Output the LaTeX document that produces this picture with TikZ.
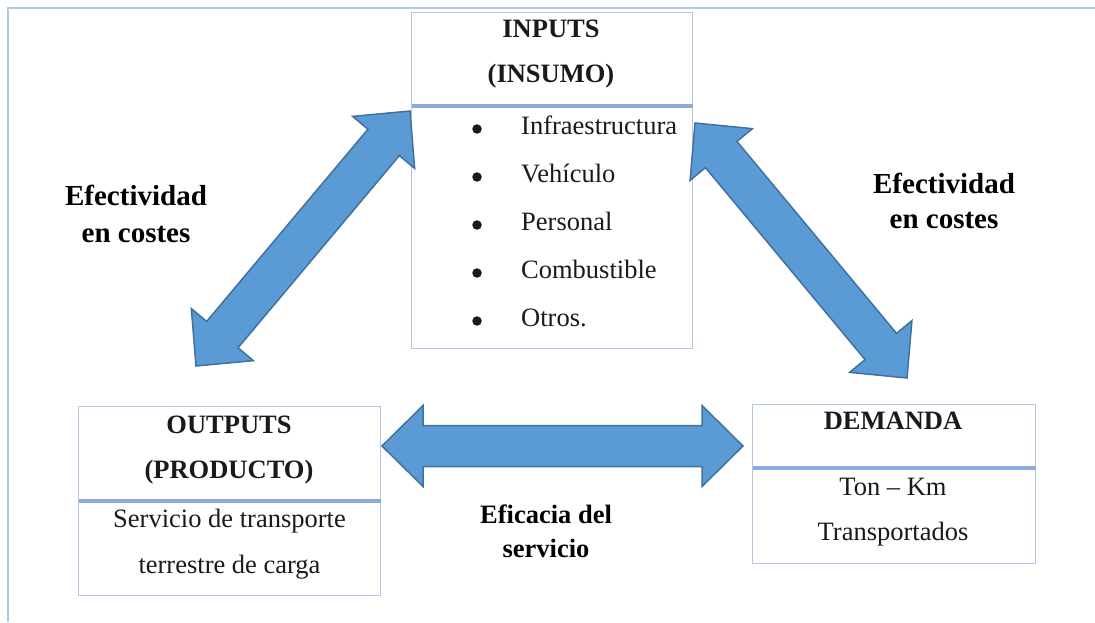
\documentclass[tikz,border=0pt]{standalone}
\usepackage{fontspec}
\setmainfont{Liberation Serif}
\usetikzlibrary{calc}
\definecolor{frameblue}{HTML}{B4C7E7}
\definecolor{divblue}{HTML}{8EA9DB}
\definecolor{arrowfill}{HTML}{5B9BD5}
\definecolor{arrowline}{HTML}{41719C}
\definecolor{txt}{HTML}{1A1A1A}
\newcommand{\hl}{41pt}
\newcommand{\hw}{40.5pt}
\newcommand{\sw}{20.5pt}
\newcommand{\blockarrow}[2]{%
  \coordinate (ha) at ($(#1)!\hl!(#2)$);
  \coordinate (hb) at ($(#2)!\hl!(#1)$);
  \draw[blockarr] (#1)
    -- ($(ha)!\hw!90:(#2)$) -- ($(ha)!\sw!90:(#2)$)
    -- ($(hb)!\sw!-90:(#1)$) -- ($(hb)!\hw!-90:(#1)$)
    -- (#2)
    -- ($(hb)!\hw!90:(#1)$) -- ($(hb)!\sw!90:(#1)$)
    -- ($(ha)!\sw!-90:(#2)$) -- ($(ha)!\hw!-90:(#2)$)
    -- cycle;}
\begin{document}
\begin{tikzpicture}[x=1pt,y=-1pt,
  box/.style={draw=frameblue, line width=1.3pt, fill=white, inner sep=0pt, anchor=north west},
  divider/.style={draw=divblue, line width=3.2pt},
  blockarr/.style={fill=arrowfill, draw=arrowline, line width=1.5pt, line join=miter},
  body/.style={inner sep=0pt, anchor=base, text=txt, font=\fontsize{26.5}{32}\selectfont},
  head/.style={body, font=\fontsize{26.5}{32}\selectfont\bfseries},
  lbl/.style={inner sep=0pt, anchor=base, text=black, font=\fontsize{29}{34}\selectfont\bfseries},
  lblsmall/.style={lbl, font=\fontsize{26.5}{32}\selectfont\bfseries},
  item/.style={body, anchor=base west},
  dot/.style={circle, fill=txt, inner sep=0pt, minimum size=9.5pt}]
\useasboundingbox (0,0) rectangle (1095,622);
% frame lines
\coordinate (fa) at (8,622);
\coordinate (fb) at (8,8);
\coordinate (fc) at (1095,8);
\draw[frameblue, line width=2pt] (fa) -- (fb) -- (fc);

% boxes
\node[box, minimum width=281pt, minimum height=336pt] (inp) at (411,12) {};
\draw[divider] ([yshift=-94pt,xshift=0.6pt]inp.north west) -- ([yshift=-94pt,xshift=-0.6pt]inp.north east);
\node[box, minimum width=302pt, minimum height=189pt] (out) at (78,406) {};
\draw[divider] ([yshift=-95pt,xshift=0.6pt]out.north west) -- ([yshift=-95pt,xshift=-0.6pt]out.north east);
\node[box, minimum width=283pt, minimum height=159pt] (dem) at (752,404) {};
\draw[divider] ([yshift=-64pt,xshift=0.6pt]dem.north west) -- ([yshift=-64pt,xshift=-0.6pt]dem.north east);

% texts in INPUTS
\node[head] (t1) at (551,37) {INPUTS};
\node[head] (t2) at (551,82) {(INSUMO)};
\node[item] (i1) at (521,134) {Infraestructura};
\node[item] (i2) at (521,182) {Vehículo};
\node[item] (i3) at (521,230) {Personal};
\node[item] (i4) at (521,278) {Combustible};
\node[item] (i5) at (521,326) {Otros.};
\node[dot] (d1) at (477,129) {};
\node[dot] (d2) at (477,177) {};
\node[dot] (d3) at (477,225) {};
\node[dot] (d4) at (477,273) {};
\node[dot] (d5) at (477,321) {};

% OUTPUTS
\node[head] (o1) at (229,433) {OUTPUTS};
\node[head] (o2) at (229,478) {(PRODUCTO)};
\node[body] (o3) at (229.5,527) {Servicio de transporte};
\node[body] (o4) at (229.5,573) {terrestre de carga};

% DEMANDA
\node[head] (m1) at (893,429) {DEMANDA};
\node[body] (m2) at (893,495) {Ton – Km};
\node[body] (m3) at (893,540) {Transportados};

% labels
\node[lbl] (l1) at (136,205) {Efectividad};
\node[lbl] (l2) at (136,242) {en costes};
\node[lbl] (r1) at (944,193) {Efectividad};
\node[lbl] (r2) at (944,228) {en costes};
\node[lblsmall] (e1) at (546,523) {Eficacia del};
\node[lblsmall] (e2) at (546,557) {servicio};

% arrows
\coordinate (la) at (196,366);
\coordinate (lb) at (410,111);
\coordinate (ra) at (695,123);
\coordinate (rb) at (907,378);
\coordinate (ha1) at (382,446);
\coordinate (ha2) at (743,446);
\blockarrow{la}{lb}
\blockarrow{ra}{rb}
\blockarrow{ha1}{ha2}
\end{tikzpicture}
\end{document}
